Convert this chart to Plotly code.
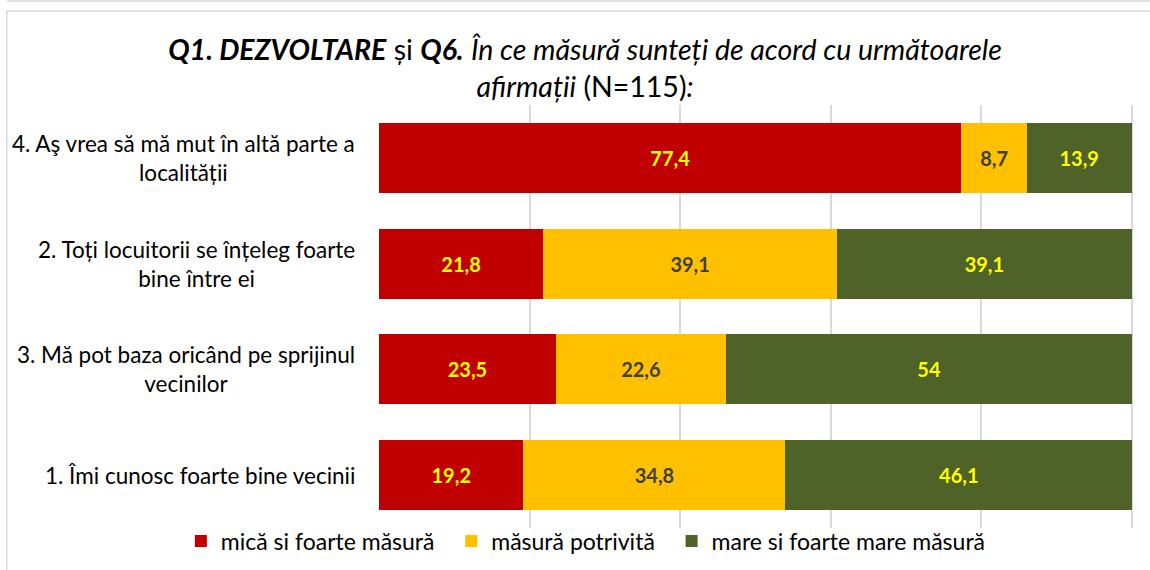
import plotly.graph_objects as go

categories = [
    "4. Aş vrea să mă mut în altă parte a<br>localității",
    "2. Toți locuitorii se înțeleg foarte<br>bine între ei",
    "3. Mă pot baza oricând pe sprijinul<br>vecinilor",
    "1. Îmi cunosc foarte bine vecinii",
]
series_names = ["mică si foarte măsură", "măsură potrivită", "mare si foarte mare măsură"]
mica = [77.4, 21.8, 23.5, 19.2]
potrivita = [8.7, 39.1, 22.6, 34.8]
mare = [13.9, 39.1, 54, 46.1]
x_ticks = [0, 20, 40, 60, 80, 100]

colors = ["#C00000", "#FFC000", "#4F6228"]
label_colors = ["#FFFF00", "#404040", "#FFFF00"]

def fmt(v):
    return f"{v:g}".replace(".", ",")

XMAX = 100.2
L, R_EDGE = 379, 1131
TOP, BOTTOM = 105, 528
plot_w = (R_EDGE - L) * XMAX / 100.0
plot_h = BOTTOM - TOP
r_margin = 1150 - L - plot_w

fig = go.Figure()
for i, (name, vals, c, lc) in enumerate(zip(series_names, [mica, potrivita, mare], colors, label_colors)):
    pad = "\u00a0" * 2 if i < len(series_names) - 1 else ""
    fig.add_trace(go.Bar(
        y=categories, x=vals, name=name + pad, orientation="h",
        marker=dict(color=c, line=dict(width=0)),
        text=[fmt(v) for v in vals], textposition="inside", insidetextanchor="middle",
        textfont=dict(family="Lato", size=20, color=lc, weight="bold"),
        constraintext="none", cliponaxis=False,
    ))

for cat in categories:
    fig.add_annotation(
        x=0, xref="paper", xshift=-22, y=cat, yref="y", text=cat, showarrow=False,
        xanchor="right", yanchor="middle", align="center",
        font=dict(family="Lato", size=22.5, color="#000000"),
    )

title = ("<b><i>Q1. DEZVOLTARE</i></b> și <b><i>Q6.</i></b> <i>În ce măsură sunteți de acord cu următoarele</i>"
         "<br><i>afirmații</i> (N=115)<i>:</i>")

fig.update_layout(
    width=1150, height=570,
    paper_bgcolor="white", plot_bgcolor="white",
    barmode="stack", bargap=0.34,
    margin=dict(l=L, r=r_margin, t=TOP, b=570 - BOTTOM, autoexpand=False),
    title=dict(text=title, x=585/1150, xref="container", xanchor="center",
               y=1 - 60/570, yref="container", yanchor="middle",
               font=dict(family="Lato", size=28.5, color="#000000")),
    xaxis=dict(range=[0, XMAX], tickvals=x_ticks, showticklabels=False,
               showgrid=True, gridcolor="#D9D9D9", gridwidth=1.5,
               zeroline=False, showline=False, fixedrange=True),
    yaxis=dict(autorange="reversed", showticklabels=False, showgrid=False,
               showline=False, zeroline=False, ticks="", fixedrange=True),
    legend=dict(orientation="h", x=(181 - L) / plot_w, xref="paper", xanchor="left",
                y=-(541 - BOTTOM) / plot_h, yref="paper", yanchor="middle",
                bgcolor="rgba(0,0,0,0)",
                font=dict(family="Lato", size=23, color="#000000"),
                traceorder="normal", tracegroupgap=0),
    showlegend=True,
    shapes=[
        dict(type="rect", xref="paper", yref="paper",
             x0=(7 - L) / plot_w, x1=(1160 - L) / plot_w,
             y0=-(580 - BOTTOM) / plot_h, y1=1 + (TOP - 11) / plot_h,
             line=dict(color="#D9D9D9", width=1.5), fillcolor="rgba(0,0,0,0)", layer="below"),
        dict(type="line", xref="paper", yref="paper",
             x0=(7 - L) / plot_w, x1=(1160 - L) / plot_w,
             y0=1 + (TOP - 1) / plot_h, y1=1 + (TOP - 1) / plot_h,
             line=dict(color="#D9D9D9", width=1.5)),
    ],
)

fig.write_html("out.html", config={"displayModeBar": False},
               post_script="document.body.style.margin='0';document.body.style.overflow='hidden';")
